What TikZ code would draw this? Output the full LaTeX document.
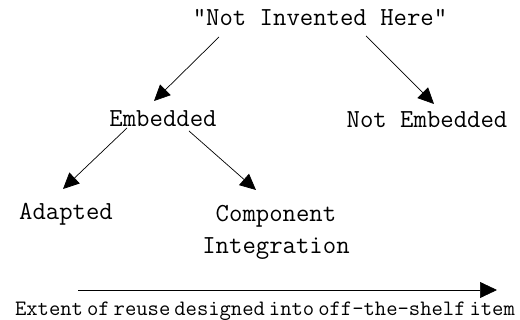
\documentclass[tikz,border=0pt]{standalone}
\usepackage{fontspec}
\usetikzlibrary{arrows.meta}

\tikzset{
  treelabel/.style={inner sep=0pt, outer sep=0pt, anchor=base,
    font=\ttfamily\fontsize{26}{32}\selectfont},
  scaletext/.style={inner sep=0pt, outer sep=0pt, anchor=base,
    font=\ttfamily\fontsize{22}{26}\selectfont},
  link/.style={draw=black, line width=0.7pt,
    -{Triangle[length=16pt,width=15pt]}},
  scaleline/.style={draw=black, line width=0.7pt,
    -{Triangle[length=17pt,width=16pt]}}
}

\begin{document}
\begin{tikzpicture}[x=1pt,y=-1pt]
  \useasboundingbox (0,0) rectangle (520,320);

  % labels of the classification tree
  \node[treelabel] (nih)    at (320,26)  {"Not Invented Here"};
  \node[treelabel] (emb)    at (163,127) {Embedded};
  \node[treelabel] (notemb) at (427,128) {Not Embedded};
  \node[treelabel] (adapt)  at (66,220)  {Adapted};
  \node[treelabel, anchor=north, align=center] (comp) at (276,205)
        {Component\\Integration};

  % tree branches
  \draw[link] ([shift={(-101,11)}]nih.base) -- ([shift={(-9,-26)}]emb.base);
  \draw[link] ([shift={(46,10)}]nih.base)   -- ([shift={(7,-24)}]notemb.base);
  \draw[link] ([shift={(-36,1)}]emb.base)   -- ([shift={(-3,-31)}]adapt.base);
  \draw[link] ([shift={(26,4)}]emb.base)    -- ([shift={(-20,-15)}]comp.north);

  % reuse scale along the bottom
  \coordinate (axisL) at (78,290);
  \coordinate (axisR) at (497,290);
  \draw[scaleline] (axisL) -- (axisR);
  \node[scaletext] (cap) at (265,316)
        {\spaceskip=4pt\relax Extent of reuse designed into off-the-shelf item};
\end{tikzpicture}
\end{document}
